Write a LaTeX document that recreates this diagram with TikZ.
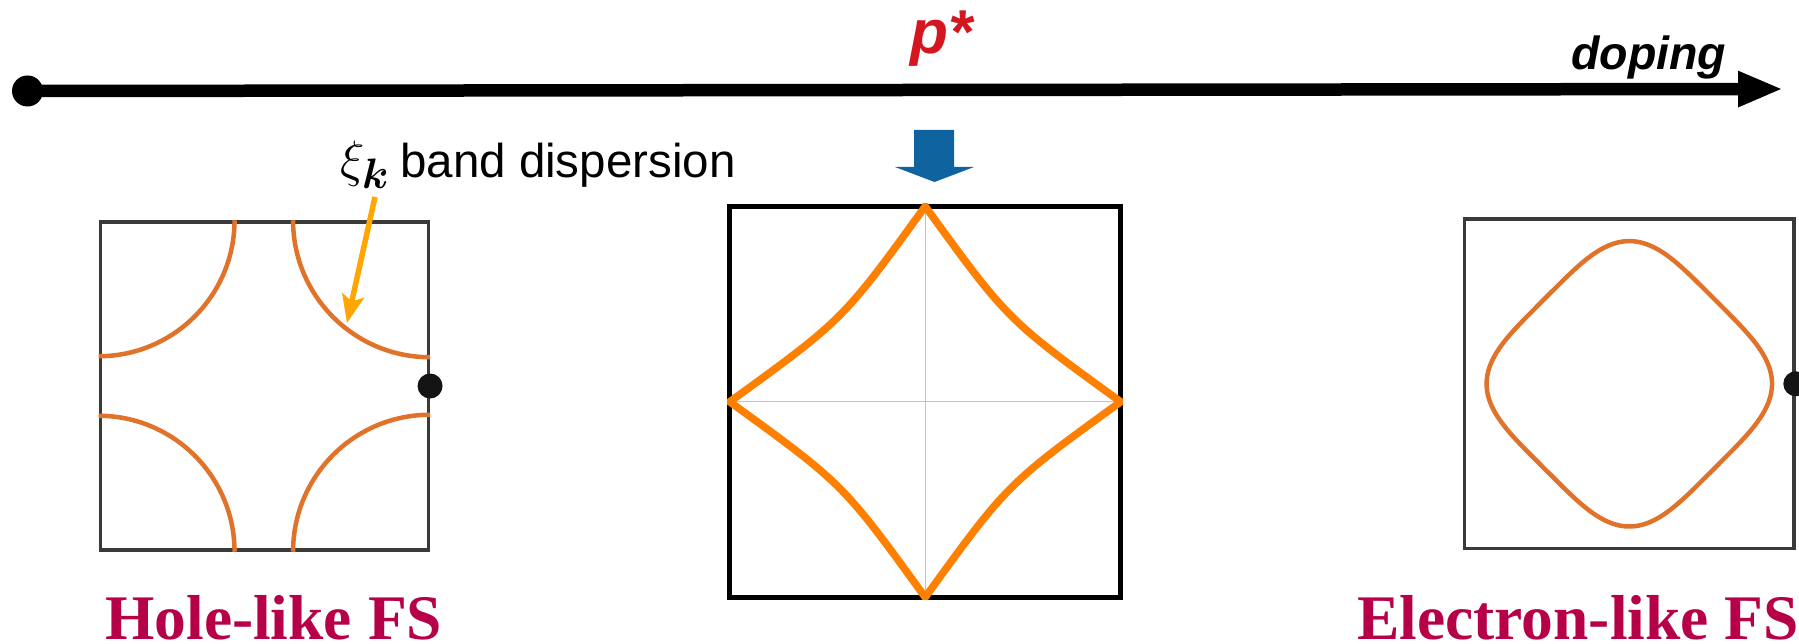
\documentclass[tikz,border=0pt]{standalone}
\usepackage{amsmath}
\usepackage{fontspec}
\newfontfamily\lsans{Liberation Sans}
\newfontfamily\lserif{Liberation Serif}
\usetikzlibrary{arrows.meta}
\definecolor{fsorange}{RGB}{224,114,42}
\definecolor{vhsorange}{RGB}{255,128,0}
\definecolor{xiarrow}{RGB}{255,166,0}
\definecolor{pred}{RGB}{212,22,32}
\definecolor{arrowblue}{RGB}{15,99,158}
\definecolor{fslabel}{RGB}{182,0,72}
\definecolor{boxgray}{RGB}{58,58,58}
\definecolor{crossgray}{RGB}{195,195,195}
\begin{document}
\begin{tikzpicture}[x=1pt,y=-1pt,
  bigdot/.style={circle,fill=black,inner sep=0pt,minimum size=31pt},
  smalldot/.style={circle,fill=black!92,inner sep=0pt,minimum size=25pt},
  axisline/.style={line width=12.5pt,-{Triangle[length=45pt,width=33pt]}},
  fsbox/.style={draw=boxgray,line width=3.5pt,inner sep=0pt,minimum width=328pt,minimum height=328pt},
  vhsbox/.style={draw=black,line width=5pt,inner sep=0pt,minimum size=391pt},
  crossline/.style={draw=crossgray,line width=1.3pt},
  fsline/.style={draw=fsorange,line width=4.5pt},
  vhsline/.style={draw=vhsorange,line width=7.5pt,line join=miter},
  xiarrowline/.style={draw=xiarrow,line width=5.5pt,-{Stealth[length=28pt,width=22pt,inset=6pt]}},
  fslabeltext/.style={inner sep=0pt,anchor=base west,text=fslabel,font=\lserif\bfseries\fontsize{63.5}{70}\selectfont},
  plain/.style={inner sep=0pt,anchor=base west}
]
\useasboundingbox (0,0) rectangle (1799,644);
\fill[white] (0,0) rectangle (1799,644);

% doping axis
\node[bigdot] (d0) at (27.5,91) {};
\coordinate (dend) at (1783,89);
\draw[axisline] (d0.center) -- (dend);
\node[plain,text=pred,font=\lsans\bfseries\itshape\fontsize{62}{70}\selectfont] (pstar) at (910,54) {p*};
\node[plain,font=\lsans\bfseries\itshape\fontsize{46.5}{55}\selectfont] (dop) at (1571,70) {doping};

% blue arrow
\fill[arrowblue] (914,130) -- (954,130) -- (954,167) -- (974,167) -- (934.5,182) -- (895,167) -- (914,167) -- cycle;

% left box: hole-like FS
\node[fsbox] (hbox) at (264.3,386) {};
\begin{scope}[shift={(hbox.north west)}]
\draw[fsline] (136,0) .. controls (136,75.1) and (75.1,136) .. (0,136);
\end{scope}
\begin{scope}[shift={(hbox.north east)}]
\draw[fsline] (-137,0) .. controls (-137,75.7) and (-75.7,137) .. (0,137);
\end{scope}
\begin{scope}[shift={(hbox.south west)}]
\draw[fsline] (136,0) .. controls (136,-75.1) and (75.1,-136) .. (0,-136);
\end{scope}
\begin{scope}[shift={(hbox.south east)}]
\draw[fsline] (-137,0) .. controls (-137,-75.7) and (-75.7,-137) .. (0,-137);
\end{scope}
\node[smalldot] (hdot) at (hbox.east) {};
\node[fslabeltext] (hlab) at (105,639) {Hole-like FS};

% band dispersion label
\node[plain,font=\Huge,scale=2.05] (xik) at (340,177) {$\xi_{\boldsymbol{k}}$};
\node[plain,font=\lsans\fontsize{47.5}{56}\selectfont] (bd) at (400,178) {band dispersion};
\coordinate (xis) at (375,197);
\coordinate (xit) at (347,323);
\draw[xiarrowline] (xis) -- (xit);

% middle box: van Hove
\node[vhsbox] (mbox) at (925.2,401.8) {};
\draw[crossline] (mbox.north) -- (mbox.south);
\draw[crossline] (mbox.west) -- (mbox.east);
\begin{scope}
\clip (mbox.north west) rectangle (mbox.south east);
\begin{scope}[shift={(mbox.center)},scale=195.5]
\draw[vhsline] (0,-1) .. controls (-0.42,-0.42) and (-0.42,-0.42) .. (-1,0)
  .. controls (-0.42,0.42) and (-0.42,0.42) .. (0,1)
  .. controls (0.42,0.42) and (0.42,0.42) .. (1,0)
  .. controls (0.42,-0.42) and (0.42,-0.42) .. (0,-1) -- cycle;
\end{scope}
\end{scope}

% right box: electron-like FS
\node[fsbox,minimum width=329.5pt,minimum height=329.5pt] (rbox) at (1629.3,383.8) {};
\begin{scope}[shift={(rbox.center)},rotate=45]
\draw[fsline] plot[domain=0:90,samples=46,smooth] ({120*sqrt(abs(cos(\x)))},{120*sqrt(abs(sin(\x)))})
  -- plot[domain=90:180,samples=46,smooth] ({-120*sqrt(abs(cos(\x)))},{120*sqrt(abs(sin(\x)))})
  -- plot[domain=180:270,samples=46,smooth] ({-120*sqrt(abs(cos(\x)))},{-120*sqrt(abs(sin(\x)))})
  -- plot[domain=270:360,samples=46,smooth] ({120*sqrt(abs(cos(\x)))},{-120*sqrt(abs(sin(\x)))}) -- cycle;
\end{scope}
\node[smalldot] (rdot) at (rbox.east) {};
\node[fslabeltext] (elab) at (1357,639) {Electron-like FS};
\end{tikzpicture}
\end{document}
